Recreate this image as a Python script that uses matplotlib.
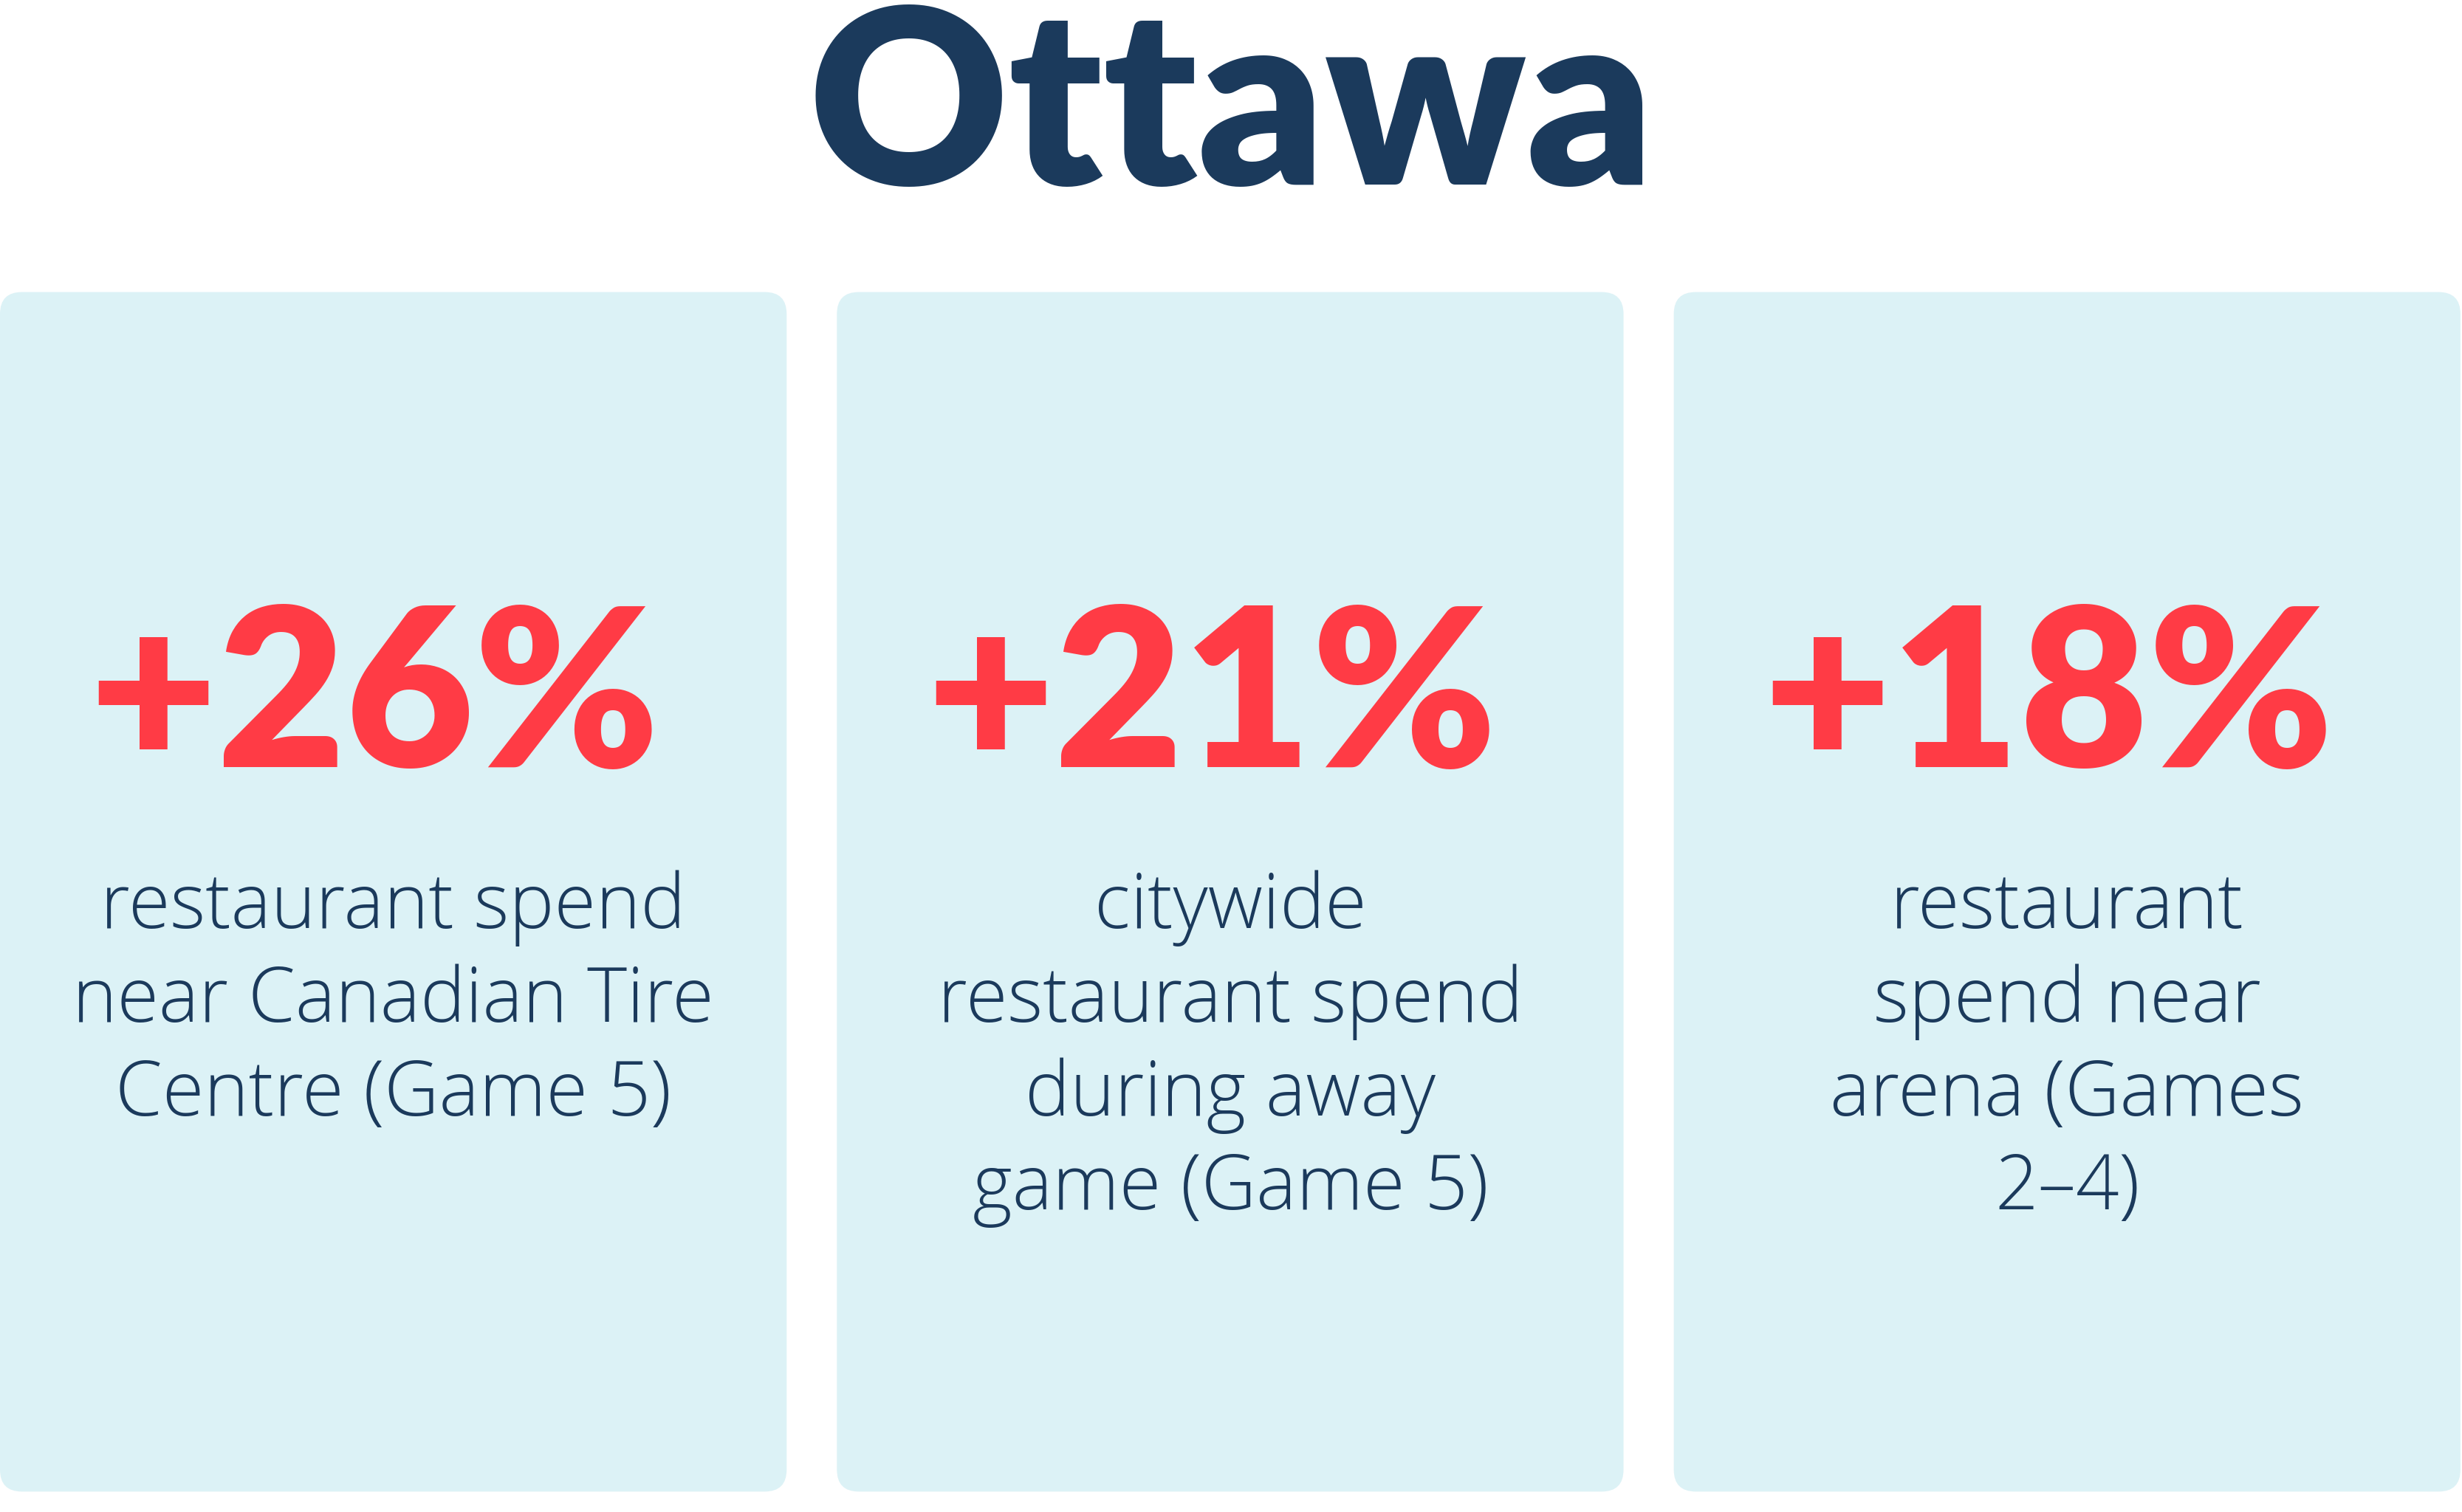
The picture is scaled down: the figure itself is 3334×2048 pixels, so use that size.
import matplotlib
matplotlib.use("Agg")
import matplotlib.pyplot as plt
from matplotlib.patches import FancyBboxPatch

title = "Ottawa"
values = ["+26%", "+21%", "+18%"]
labels = [
    "restaurant spend\nnear Canadian Tire\nCentre (Game 5)",
    "citywide\nrestaurant spend\nduring away\ngame (Game 5)",
    "restaurant\nspend near\narena (Games\n2\u20134)",
]

W, H = 1568, 963
fig = plt.figure(figsize=(16.67, 10.24), dpi=200)
ax = fig.add_axes([0, 0, 1, 1])
ax.set_xlim(0, W); ax.set_ylim(H, 0); ax.axis("off")

navy = "#1B3A5C"; red = "#FF3B45"; card = "#DCF2F6"
ax.text(W/2, 72, title, ha="center", va="center", fontsize=120,
        fontweight="heavy", family="Lato", color=navy)

lefts = [0, 533, 1066]
cw = 501
for x0, v, lab in zip(lefts, values, labels):
    ax.add_patch(FancyBboxPatch((x0+12, 198), cw-24, 740,
                 boxstyle="round,pad=12,rounding_size=14",
                 fc=card, ec="none"))
    cx = x0 + cw/2
    ax.text(cx-12, 447, v, ha="center", va="center", fontsize=108,
            fontweight="heavy", family="Lato", color=red)
    ax.text(cx, 554, lab, ha="center", va="top", fontsize=37,
            fontweight="light", family="Open Sans", color=navy, linespacing=1.3)

fig.savefig("out.png", dpi=200, facecolor="white")
